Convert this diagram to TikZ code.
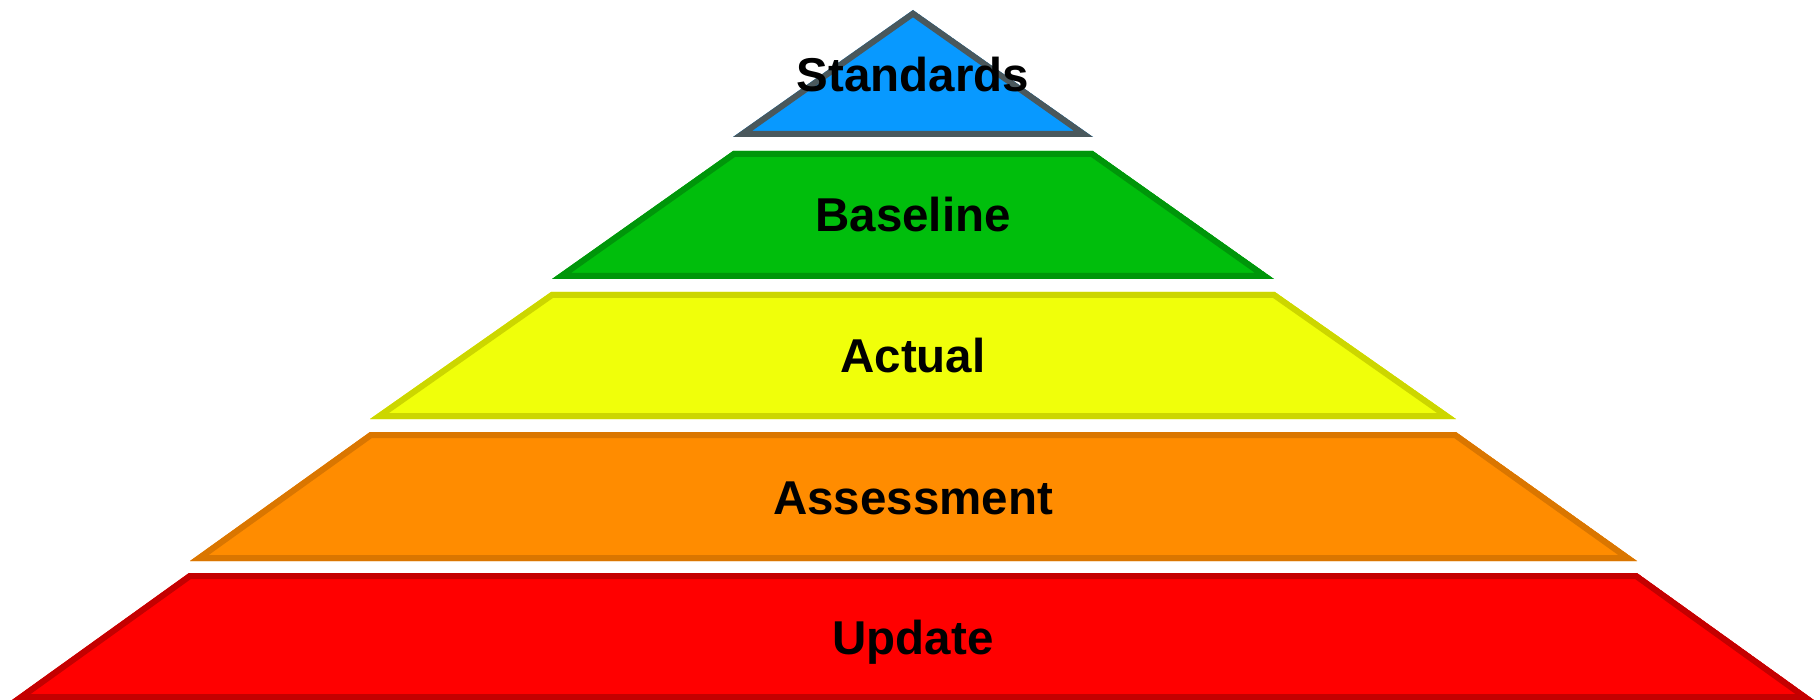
\documentclass[tikz,border=0pt]{standalone}
\usepackage{fontspec}
\setmainfont{Liberation Sans}
\definecolor{stdfill}{RGB}{8,153,255}
\definecolor{stdline}{RGB}{74,88,92}
\definecolor{basefill}{RGB}{0,190,12}
\definecolor{basestroke}{RGB}{0,150,10}
\definecolor{actfill}{RGB}{240,255,10}
\definecolor{actline}{RGB}{204,214,0}
\definecolor{assfill}{RGB}{255,140,0}
\definecolor{assline}{RGB}{218,118,0}
\definecolor{updfill}{RGB}{255,0,0}
\definecolor{updline}{RGB}{196,0,0}
\newcommand\pyrlayer[3]{%
  \begin{scope}
    \clip #1;
    \fill[#2] #1;
    \draw[#3, line width=12pt, line join=miter] #1;
  \end{scope}}
\begin{document}
\begin{tikzpicture}[x=1pt,y=-1pt,
  lbl/.style={font=\fontsize{47.5}{47.5}\selectfont\bfseries, text=black, inner sep=0pt, anchor=base}]
\useasboundingbox (0,0) rectangle (1820,700);
\pyrlayer{(913,10) -- (1093,137) -- (733,137) -- cycle}{stdfill}{stdline}
\pyrlayer{(733,151) -- (1093,151) -- (1274,279) -- (552,279) -- cycle}{basefill}{basestroke}
\pyrlayer{(551,292) -- (1275,292) -- (1456,419) -- (370,419) -- cycle}{actfill}{actline}
\pyrlayer{(370,432) -- (1456,432) -- (1637,561) -- (190,561) -- cycle}{assfill}{assline}
\pyrlayer{(189,573) -- (1637,573) -- (1814,700) -- (12,700) -- cycle}{updfill}{updline}
\node[lbl] (std) at (913,92) {Standards};
\node[lbl] (base) at (913,232) {Baseline};
\node[lbl] (act) at (913,373) {Actual};
\node[lbl] (ass) at (913,514) {Assessment};
\node[lbl] (upd) at (913,654) {Update};
\end{tikzpicture}
\end{document}
